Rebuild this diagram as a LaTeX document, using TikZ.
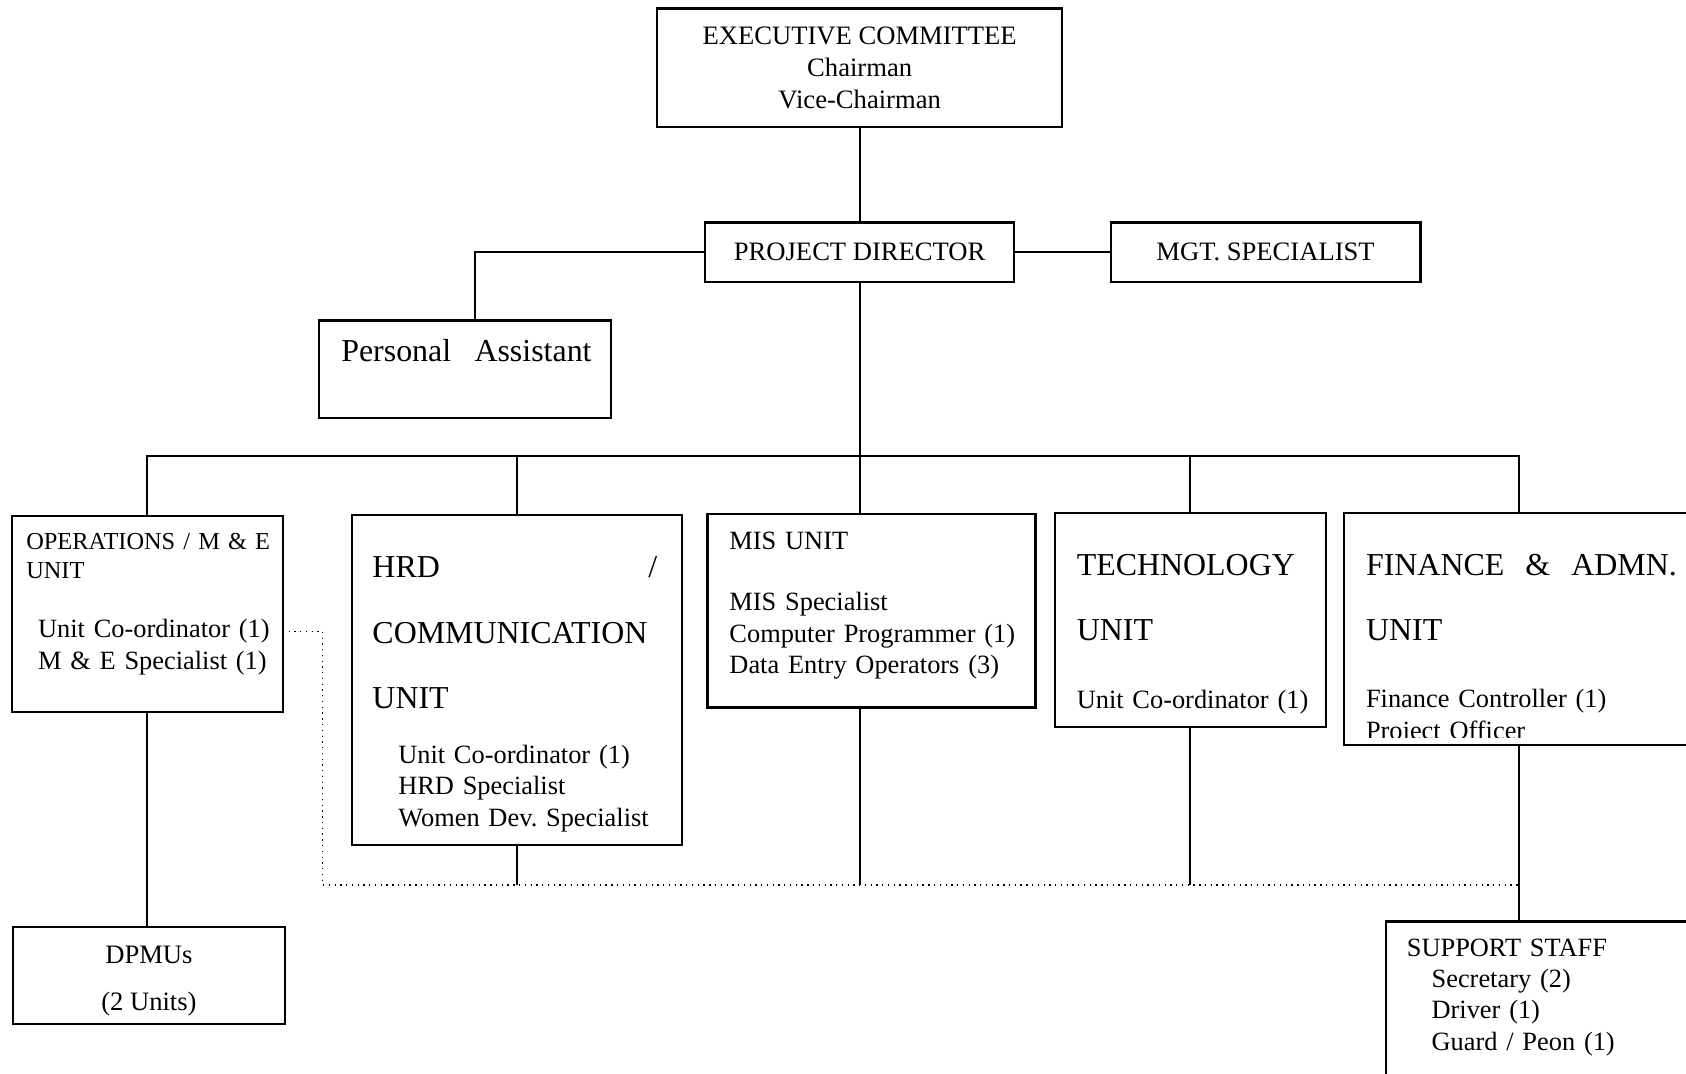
\documentclass[tikz,border=0pt]{standalone}
\usepackage{fontspec}
\setmainfont{Liberation Serif}
\usetikzlibrary{fit}
\frenchspacing

\tikzset{
  box/.style={draw, line width=1pt, inner sep=0pt},
  head/.style={anchor=base west, inner sep=0pt, text width=7cm, align=left, font=\fontsize{14.4}{29.6}\selectfont},
  staff/.style={anchor=base west, inner sep=0pt, text width=7cm, align=left, font=\fontsize{11.9}{14.2}\selectfont},
  title/.style={inner sep=0pt, align=center},
  link/.style={line width=1pt},
  dots/.style={dotted, line width=0.6pt}
}

\begin{document}
\begin{tikzpicture}[x=0.485pt, y=-0.485pt, font=\fontsize{12}{14.4}\selectfont]
\useasboundingbox (0,0) rectangle (1568,998);
\clip (0,0) rectangle (1568,998);

% committee, director and his staff
\node[box, fit={(611,8) (988,118)}] (exec) {};
\node[title] (exec-text) at (exec.center) {EXECUTIVE COMMITTEE\\Chairman\\Vice-Chairman};
\node[box, fit={(656,207) (943,262)}] (pd) {};
\node[title] (pd-text) at (pd.center) {PROJECT DIRECTOR};
\node[box, fit={(1033,207) (1321,262)}] (mgt) {};
\node[title] (mgt-text) at (mgt.center) {MGT. SPECIALIST};
\node[box, fit={(297,298) (568,389)}] (pa) {};
\node[anchor=base west, inner sep=0pt, font=\fontsize{14.4}{17}\selectfont] (pa-name) at (317,336) {Personal\hspace{10.5pt}Assistant};

% the five units
\node[box, fit={(11,480) (263,662)}] (ops) {};
\node[anchor=base west, inner sep=0pt, text width=6cm, align=left, font=\fontsize{11}{13.1}\selectfont] (ops-head) at (24,511) {OPERATIONS / M \& E\\UNIT};
\node[staff] (ops-staff) at (35,593) {Unit Co-ordinator (1)\\M \& E Specialist (1)};

\node[box, fit={(327,479) (634,786)}] (hrd) {};
\node[head] (hrd-head) at (346,537) {HRD\hspace{94pt}/\\COMMUNICATION\\UNIT};
\node[staff] (hrd-staff) at (370,710) {Unit Co-ordinator (1)\\HRD Specialist\\Women Dev. Specialist};

\node[box, fit={(658,478) (963,658)}] (mis) {};
\node[staff] (mis-head) at (678,511) {MIS UNIT};
\node[staff] (mis-staff) at (678,568) {MIS Specialist\\Computer Programmer (1)\\Data Entry Operators (3)};

\node[box, fit={(981,477) (1233,676)}] (tech) {};
\node[head] (tech-head) at (1001,535) {TECHNOLOGY\\UNIT};
\node[staff] (tech-staff) at (1001,659) {Unit Co-ordinator (1)};

\node[box, fit={(1250,477) (1576,693)}] (fin) {};
\node[head] (fin-head) at (1270,535) {FINANCE\hspace{9.5pt}\&\hspace{9.5pt}ADMN.\\UNIT};
\begin{scope}
  \clip (fin.north west) rectangle ([yshift=4pt]fin.south east);
  \node[staff] (fin-staff) at (1270,658) {Finance Controller (1)\\Project Officer};
\end{scope}

% field level
\node[box, fit={(12,862) (265,952)}] (dpmu) {};
\node[title, font=\fontsize{12}{21.3}\selectfont] (dpmu-text) at ([yshift=-2.5pt]dpmu.center) {DPMUs\\(2 Units)};
\node[box, fit={(1289,857) (1620,1020)}] (sup) {};
\node[staff] (sup-head) at (1308,890) {SUPPORT STAFF};
\node[staff] (sup-staff) at (1331,918) {Secretary (2)\\Driver (1)\\Guard / Peon (1)};

% lines
\coordinate (bus) at (800,424);
\coordinate (tap) at (263,587);
\coordinate (dotcorner) at (300,823);

\draw[link] (exec) -- (pd);
\draw[link] (pd.west) -| ([xshift=4.6pt]pa.north);
\draw[link] (pd) -- (mgt);
\draw[link] (pd.south) -- (pd.south |- mis.north);
\draw[link] (ops.north) |- (bus) -| (fin.north);
\foreach \n in {hrd,tech}
  \draw[link] (\n.north) -- (\n.north |- bus);
\draw[link] (ops.south) -- (ops.south |- dpmu.north);
\draw[link] (fin.south) -- (fin.south |- sup.north);
\draw[link] (hrd.south) -- (hrd.south |- dotcorner);
\draw[link] (pd.south |- mis.south) -- (pd.south |- dotcorner);
\draw[link] (tech.south) -- (tech.south |- dotcorner);
\draw[dots] (tap) -| (dotcorner) -- (fin.south |- dotcorner);
\end{tikzpicture}
\end{document}
